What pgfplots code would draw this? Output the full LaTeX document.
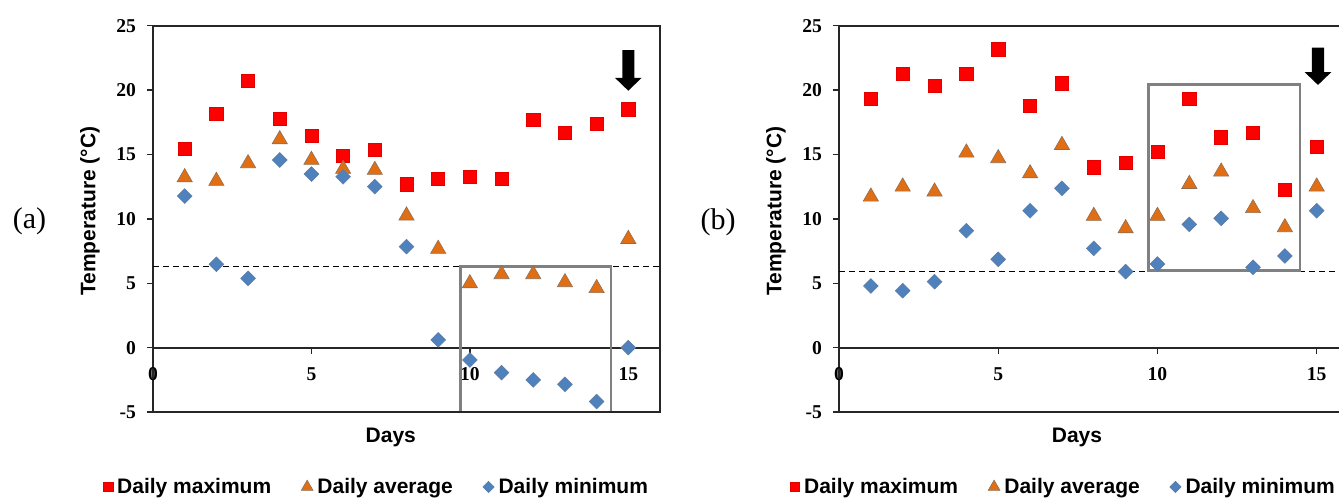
\documentclass[border=0pt]{standalone}
\usepackage{pgfplots}
\pgfplotsset{compat=1.18}
\usepackage{pgfplotstable}
\usepackage{fontspec}
\setmainfont{Liberation Serif}
\setsansfont{Liberation Sans}

\definecolor{maxred}{RGB}{255,0,0}
\definecolor{avgorange}{RGB}{226,110,20}
\definecolor{avgedge}{RGB}{140,110,85}
\definecolor{minblue}{RGB}{79,129,189}
\definecolor{minedge}{RGB}{95,125,165}
\definecolor{boxgray}{RGB}{128,128,128}

% site (a)
\pgfplotstableread{
day max avg min
1 15.47 13.22 11.77
2 18.14 12.94 6.47
3 20.72 14.31 5.38
4 17.80 16.17 14.57
5 16.46 14.57 13.48
6 14.88 13.87 13.27
7 15.34 13.79 12.50
8 12.68 10.25 7.84
9 13.12 7.66 0.60
10 13.27 4.99 -0.96
11 13.12 5.69 -1.94
12 17.67 5.69 -2.51
13 16.69 5.07 -2.85
14 17.41 4.61 -4.19
15 18.50 8.43 0.00
}\tabA

% site (b)
\pgfplotstableread{
day max avg min
1 19.35 11.72 4.79
2 21.24 12.50 4.42
3 20.34 12.11 5.12
4 21.24 15.14 9.08
5 23.16 14.70 6.86
6 18.76 13.53 10.63
7 20.52 15.73 12.37
8 14.00 10.22 7.71
9 14.36 9.26 5.90
10 15.19 10.22 6.49
11 19.35 12.70 9.57
12 16.33 13.66 10.04
13 16.69 10.82 6.24
14 12.24 9.34 7.12
15 15.60 12.50 10.63
}\tabB

\tikzset{labfont/.style={font=\sffamily\bfseries\fontsize{10.5}{12}\selectfont}}

\pgfplotsset{
  tempaxis/.style={
    scale only axis, height=193.15pt,
    xmin=0, ymin=-5, ymax=25,
    axis x line*=middle, axis y line*=left,
    axis line style={black!85, line width=0.9pt, -},
    xtick={0,5,10,15}, xticklabels={0,5,10,15},
    ytick={-5,0,5,10,15,20,25}, yticklabels={-5,0,5,10,15,20,25},
    tick style={black!85, line width=0.7pt},
    tick align=outside, major tick length=3pt,
    ticklabel style={font=\fontsize{9.8}{11}\selectfont\bfseries},
    xticklabel style={yshift=-3.5pt},
    yticklabel style={xshift=-2pt},
    hide obscured x ticks=false, hide obscured y ticks=false,
    clip=false,
    legend columns=3,
    legend style={draw=none, fill=none, inner sep=0pt, anchor=center,
      font=\sffamily\bfseries\fontsize{10.5}{12}\selectfont,
      nodes={inner sep=1pt},
      /tikz/every odd column/.append style={column sep=1.2pt},
      /tikz/every even column/.append style={column sep=14pt}},
    legend image code/.code={\draw[##1] plot coordinates {(0pt,0pt)};},
  },
  maxs/.style={only marks, mark=square*, mark size=3.3pt,
    mark options={fill=maxred, draw=maxred!90!black, line width=0.3pt},
    legend image post style={mark size=2.4pt}},
  avgs/.style={only marks, mark=triangle*, mark size=4.4pt,
    mark options={fill=avgorange, draw=avgedge, line width=0.3pt},
    legend image post style={mark size=3.4pt}},
  mins/.style={only marks, mark=square*, mark size=2.6pt,
    mark options={rotate=45, fill=minblue, draw=minedge, line width=0.3pt},
    legend image post style={mark size=2pt}},
}

\begin{document}
\begin{tikzpicture}
\useasboundingbox (0pt,0pt) rectangle (669.5pt,249pt);

% ---- panel (a)
\begin{axis}[tempaxis, at={(76.5pt,43pt)}, anchor=south west,
  width=253.5pt, xmax=16,
  legend style={at={(axis description cs:0.441,-0.194)}}]
  \draw[black, dash pattern=on 3pt off 2pt, line width=0.8pt]
    (axis cs:0,6.29) -- (axis cs:16,6.29);
  \draw[boxgray, line width=1.2pt] (axis cs:9.7,-5) rectangle (axis cs:14.45,6.29);
  \addplot[maxs] table[x=day, y=max] {\tabA};
  \addplot[avgs] table[x=day, y=avg] {\tabA};
  \addplot[mins] table[x=day, y=min] {\tabA};
  \legend{Daily maximum, Daily average, Daily minimum}
  \draw[black!85, line width=0.9pt]
    (axis cs:0,-5) -- (axis cs:16,-5) -- (axis cs:16,25) -- (axis cs:0,25);
  \fill[black] (axis cs:14.81,23.1) -- (axis cs:15.19,23.1) -- (axis cs:15.19,20.95)
    -- (axis cs:15.42,20.95) -- (axis cs:15.0,19.95) -- (axis cs:14.58,20.95)
    -- (axis cs:14.81,20.95) -- cycle;
  \node[labfont, rotate=90] at (axis description cs:-0.1243,0.52) {Temperature (°C)};
  \node[labfont] at (axis description cs:0.469,-0.0647) {Days};
\end{axis}
\node[font=\fontsize{15}{17}\selectfont] at (14.75pt,138.5pt) {(a)};

% ---- panel (b)
\begin{axis}[tempaxis, at={(419.5pt,43pt)}, anchor=south west,
  width=250pt, xmax=15.7,
  legend style={at={(axis description cs:0.449,-0.194)}}]
  \draw[black, dash pattern=on 3pt off 2pt, line width=0.8pt]
    (axis cs:0,5.90) -- (axis cs:15.7,5.90);
  \draw[boxgray, line width=1.2pt] (axis cs:9.72,5.98) rectangle (axis cs:14.48,20.44);
  \addplot[maxs] table[x=day, y=max] {\tabB};
  \addplot[avgs] table[x=day, y=avg] {\tabB};
  \addplot[mins] table[x=day, y=min] {\tabB};
  \legend{Daily maximum, Daily average, Daily minimum}
  \draw[black!85, line width=0.9pt] (axis cs:0,-5) -- (axis cs:15.7,-5);
  \draw[black!85, line width=0.9pt] (axis cs:0,25) -- (axis cs:15.7,25);
  \fill[black] (axis cs:14.85,23.3) -- (axis cs:15.23,23.3) -- (axis cs:15.23,21.4)
    -- (axis cs:15.46,21.4) -- (axis cs:15.04,20.4) -- (axis cs:14.62,21.4)
    -- (axis cs:14.85,21.4) -- cycle;
  \node[labfont, rotate=90] at (axis description cs:-0.126,0.52) {Temperature (°C)};
  \node[labfont] at (axis description cs:0.476,-0.0647) {Days};
\end{axis}
\node[font=\fontsize{15}{17}\selectfont] at (359pt,138pt) {(b)};
\end{tikzpicture}
\end{document}
